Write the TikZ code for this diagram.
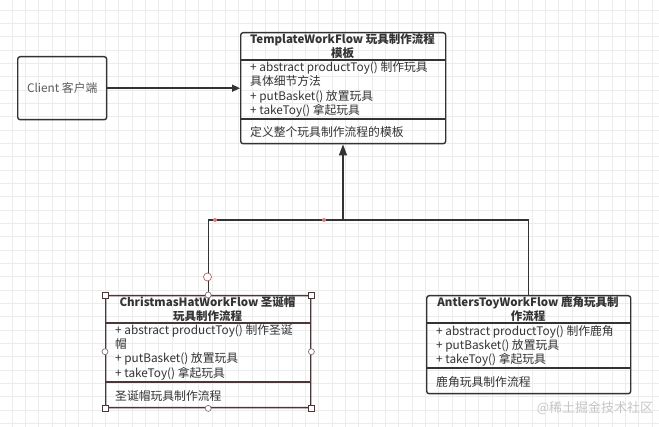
\documentclass[tikz,border=0pt]{standalone}
\usepackage{fontspec}
\setmainfont{Noto Sans CJK SC}
\usetikzlibrary{arrows.meta,positioning}
\definecolor{linegray}{HTML}{333333}
\definecolor{textgray}{HTML}{333333}
\definecolor{gridgray}{HTML}{ECECEC}
\definecolor{handlered}{HTML}{E07A7A}
\definecolor{selbrown}{HTML}{4A3838}
\tikzset{
  umlbox/.style={draw=linegray, line width=1.4pt, rounded corners=2.5pt, anchor=north west, inner sep=0pt},
  clsname/.style={font=\bfseries\fontsize{11.5pt}{14pt}\selectfont, align=center, text=textgray, inner sep=0pt},
  members/.style={font=\fontsize{11.8pt}{14.3pt}\selectfont, align=left, anchor=west, text=textgray, inner sep=0pt},
  divider/.style={draw=linegray, line width=1.2pt},
  arrow/.style={-{Triangle[length=8pt,width=7pt]}, draw=linegray, line width=1.4pt},
  inherit/.style={-{Triangle[length=11pt,width=8pt]}, draw=linegray, line width=1.4pt},
  conn/.style={draw=linegray, line width=1.4pt},
  gridline/.style={draw=gridgray, line width=0.6pt},
  sqhandle/.style={draw=selbrown, fill=white, minimum size=6pt, inner sep=0pt, line width=0.7pt},
  cirhandle/.style={circle, draw=selbrown!70, fill=white, minimum size=6pt, inner sep=0pt, line width=0.7pt},
  waypoint/.style={circle, fill=handlered, minimum size=4pt, inner sep=0pt}
}

\begin{document}
\begin{tikzpicture}[x=1pt, y=-1pt]
  % canvas and grid
  \useasboundingbox[fill=white] (0,0) rectangle (659,427);
  \foreach \i in {0,...,49} {
    \draw[gridline] (12+13.33*\i,0) -- (12+13.33*\i,427);
  }
  \foreach \j in {0,...,31} {
    \draw[gridline] (0,10+13.33*\j) -- (659,10+13.33*\j);
  }

  % client
  \node[umlbox, minimum width=89pt, minimum height=63pt] (client) at (17,56) {};
  \node[font=\fontsize{11.8pt}{14pt}\selectfont, text=textgray!80] (clientname) at (client.center) {Client 客户端};

  % abstract template
  \node[umlbox, minimum width=205pt, minimum height=111pt] (tpl) at (240,32) {};
  \node[clsname] (tplname) at (342.5,46) {TemplateWorkFlow 玩具制作流程\\模板};
  \node[members] (tplops) at (250,89.5) {+ abstract productToy() 制作玩具\\具体细节方法\\+ putBasket() 放置玩具\\+ takeToy() 拿起玩具};
  \node[members] (tplattr) at (250,132) {定义整个玩具制作流程的模板};
  \draw[divider] (tpl.west |- 0,60) -- (tpl.east |- 0,60);
  \draw[divider] (tpl.west |- 0,119) -- (tpl.east |- 0,119);

  % christmas hat
  \node[umlbox, draw=selbrown, minimum width=205pt, minimum height=112pt] (xmas) at (105,295) {};
  \node[clsname] (xmasname) at (207.5,309) {ChristmasHatWorkFlow 圣诞帽\\玩具制作流程};
  \node[members] (xmasops) at (115,352) {+ abstract productToy() 制作圣诞\\帽\\+ putBasket() 放置玩具\\+ takeToy() 拿起玩具};
  \node[members] (xmasattr) at (115,396) {圣诞帽玩具制作流程};
  \draw[divider, draw=selbrown] (xmas.west |- 0,323) -- (xmas.east |- 0,323);
  \draw[divider, draw=selbrown] (xmas.west |- 0,382) -- (xmas.east |- 0,382);

  % antlers
  \node[umlbox, minimum width=204pt, minimum height=98pt] (antler) at (426,295) {};
  \node[clsname] (antlername) at (528,309) {AntlersToyWorkFlow 鹿角玩具制\\作流程};
  \node[members] (antlerops) at (436,346) {+ abstract productToy() 制作鹿角\\+ putBasket() 放置玩具\\+ takeToy() 拿起玩具};
  \node[members] (antlerattr) at (436,382) {鹿角玩具制作流程};
  \draw[divider] (antler.west |- 0,323) -- (antler.east |- 0,323);
  \draw[divider] (antler.west |- 0,368) -- (antler.east |- 0,368);

  % connectors
  \coordinate (bar) at (343,220);
  \draw[arrow] (client.east) -- (client.east -| tpl.west);
  \draw[conn] (xmas.north) |- (bar) -| (antler.north);
  \draw[inherit] (bar) -- (bar |- tpl.south);

  % selection handles
  \foreach \a in {north west, north east, south west, south east} {
    \node[sqhandle] at (xmas.\a) {};
  }
  \foreach \a in {north, south, west, east} {
    \node[cirhandle] at (xmas.\a) {};
  }
  \node[cirhandle, minimum size=8pt, draw=handlered!80!black] (bend) at (207.5,277) {};
  \node[waypoint] (wp1) at (215,220) {};
  \node[waypoint] (wp2) at (324,220) {};

  % watermark
  \node[font=\fontsize{13pt}{15pt}\selectfont, text=gray!45] (mark) at (595,408) {@稀土掘金技术社区};
\end{tikzpicture}
\end{document}
